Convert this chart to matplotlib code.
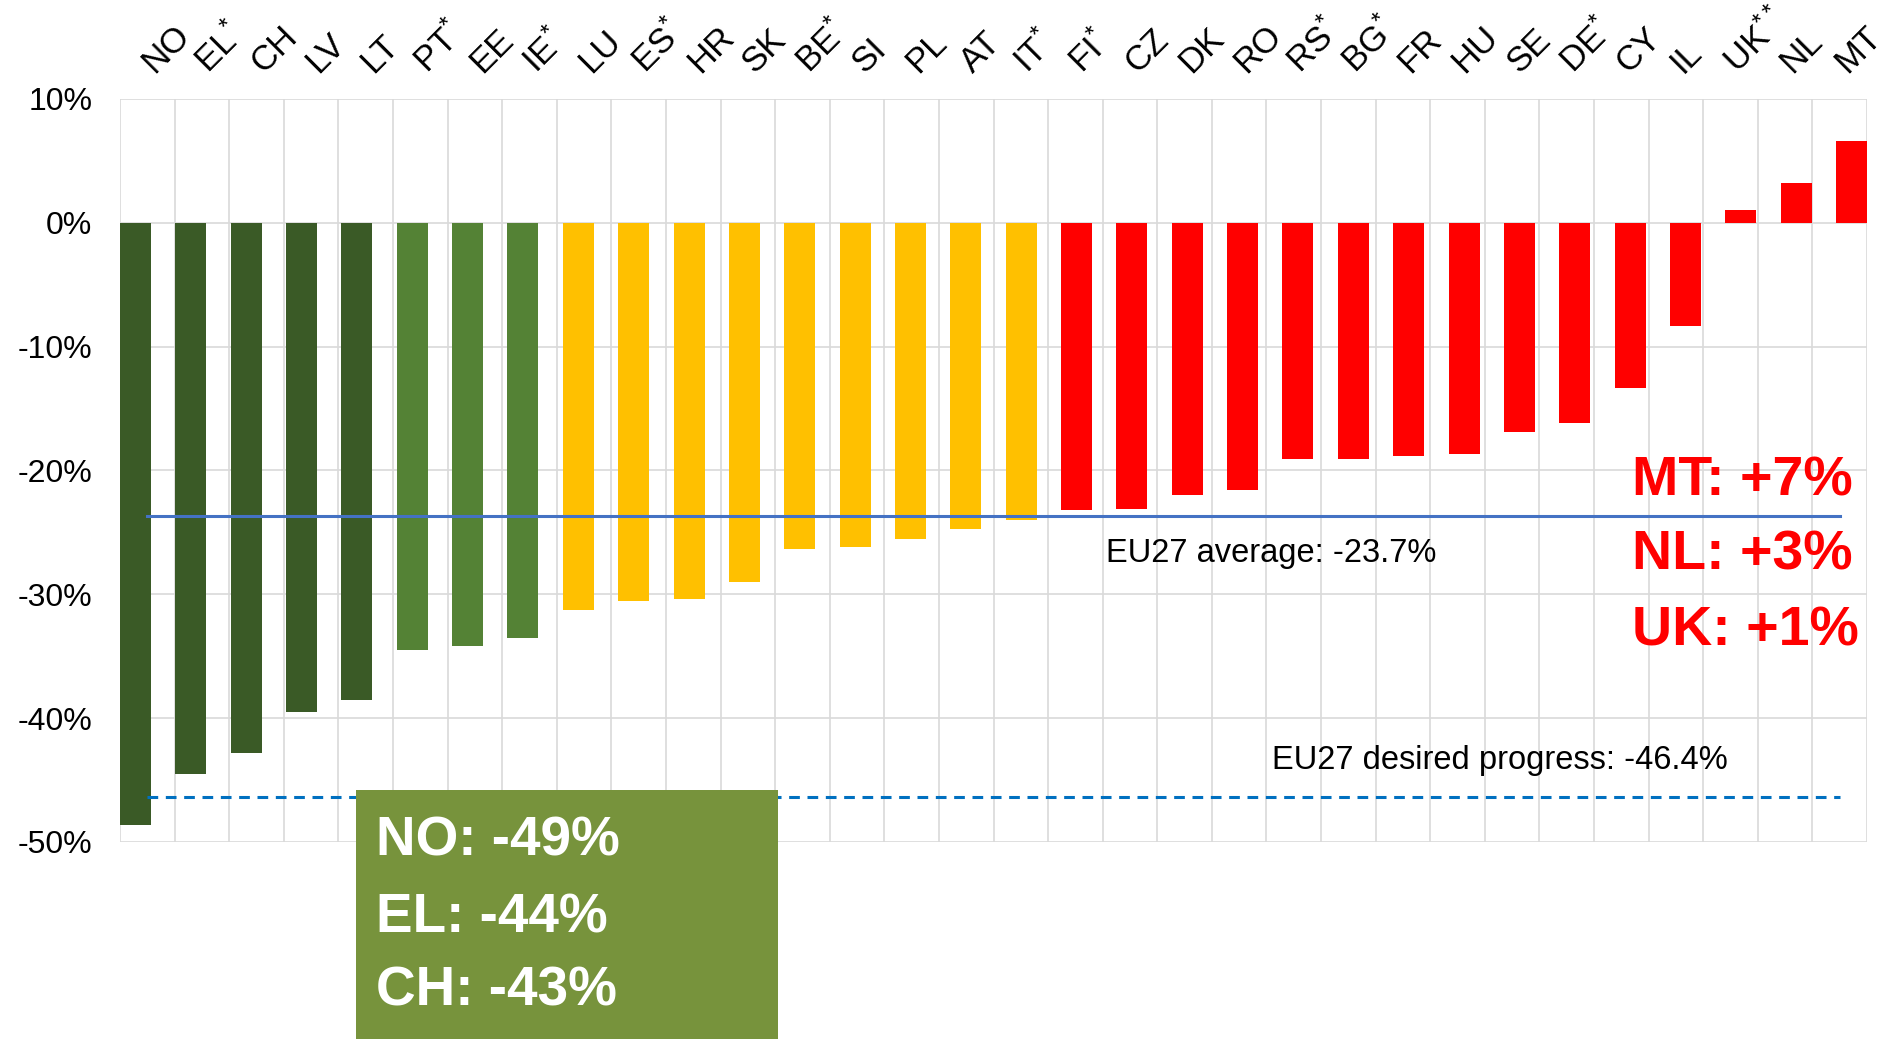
import numpy as np
import matplotlib
matplotlib.use("Agg")
import matplotlib.pyplot as plt
from matplotlib import transforms
from matplotlib.patches import Rectangle

plt.rcParams['font.family'] = ['Liberation Sans', 'DejaVu Sans']
plt.rcParams['mathtext.fontset'] = 'custom'
plt.rcParams['mathtext.rm'] = 'Liberation Sans'
plt.rcParams['mathtext.it'] = 'Liberation Sans'

# countries, ordered as in the chart
countries = ['NO', 'EL*', 'CH', 'LV', 'LT', 'PT*', 'EE', 'IE*', 'LU', 'ES*', 'HR', 'SK',
             'BE*', 'SI', 'PL', 'AT', 'IT*', 'FI*', 'CZ', 'DK', 'RO', 'RS*', 'BG*', 'FR',
             'HU', 'SE', 'DE*', 'CY', 'IL', 'UK**', 'NL', 'MT']
# change in %
values = [-48.6, -44.5, -42.8, -39.5, -38.5, -34.5, -34.2, -33.5, -31.3, -30.5, -30.4, -29.0,
          -26.3, -26.2, -25.5, -24.7, -24.0, -23.2, -23.1, -22.0, -21.6, -19.1, -19.1, -18.8,
          -18.7, -16.9, -16.2, -13.3, -8.3, 1.0, 3.2, 6.6]
groups = ['dark'] * 5 + ['green'] * 3 + ['yellow'] * 9 + ['red'] * 15
group_colors = {'dark': '#3A5A26', 'green': '#548235', 'yellow': '#FFC000', 'red': '#FF0000'}

eu_average = -23.7
eu_desired = -46.4
yticks = [10, 0, -10, -20, -30, -40, -50]

fig = plt.figure(figsize=(18.86, 10.39), dpi=100)
ax = fig.add_axes([120 / 1886, 1 - 842 / 1039, 1747 / 1886, 743 / 1039])

n = len(countries)
barw = 0.568
# bars are spread from the left edge to the right edge of the plot area
pos = barw / 2 + np.arange(n) * (n - barw) / (n - 1)
ax.bar(pos, values, width=barw, color=[group_colors[g] for g in groups], zorder=2)

ax.plot([0.5, n - 0.5], [eu_average] * 2, color='#4472C4', lw=2.2, zorder=3)
ax.plot([0.5, n - 0.5], [eu_desired] * 2, color='#0070C0', lw=2.2, dashes=(3.5, 2.5), zorder=3)

ax.set_xlim(0, n)
ax.set_ylim(-50, 10)
ax.set_yticks(yticks)
ax.set_yticklabels([f'{t}%' for t in yticks], fontsize=23)
ax.tick_params(axis='y', length=0, pad=20)
ax.set_xticks(np.arange(n + 1))
ax.set_xticklabels([])
ax.tick_params(axis='x', length=0)
ax.grid(True, color='#D9D9D9', lw=1.2, zorder=0)
ax.set_axisbelow(True)
for s in ax.spines.values():
    s.set_visible(False)

# rotated country labels above the plot
trans = transforms.offset_copy(ax.get_xaxis_transform(), fig=fig, x=7, y=25, units='dots')
for i, c in enumerate(countries):
    stars = c.count('*')
    lab = c.replace('*', '') + (r'$^{' + '*' * stars + '}$' if stars else '')
    ax.text(i + 0.5, 1, lab, transform=trans, rotation=45, rotation_mode='anchor',
            ha='left', va='baseline', fontsize=25)

ax.text(18.06, -26.7, 'EU27 average: -23.7%', fontsize=23.5, va='center', ha='left')
ax.text(21.1, -43.4, 'EU27 desired progress: -46.4%', fontsize=23.5, va='center', ha='left')

for txt, yy in zip(['MT: +7%', 'NL: +3%', 'UK: +1%'], [-20.9, -26.9, -33.0]):
    ax.text(27.7, yy, txt, fontsize=40, fontweight='bold', color='#FF0000',
            va='center', ha='left', zorder=5)

ax.add_patch(Rectangle((4.32, -66), 12.05 - 4.32, 66 - 45.8, facecolor='#77933C',
                       edgecolor='none', clip_on=False, zorder=6))
for txt, yy in zip(['NO: -49%', 'EL: -44%', 'CH: -43%'], [-50.0, -56.2, -62.1]):
    ax.text(4.69, yy, txt, fontsize=39.5, fontweight='bold', color='white',
            va='center', ha='left', zorder=7, clip_on=False)

fig.savefig('out.png', dpi=100)
